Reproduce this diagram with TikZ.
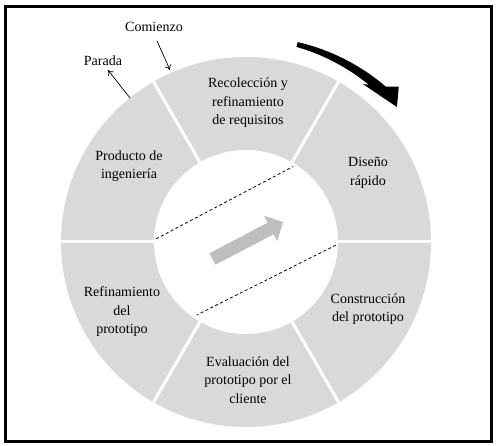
\documentclass[tikz,border=0pt]{standalone}
\usepackage{fontspec}
\setmainfont{Liberation Serif}
\usetikzlibrary{arrows.meta,calc}
\definecolor{ringgray}{RGB}{217,217,217}
\definecolor{arrowgray}{RGB}{190,190,190}
\def\rinner{92}
\def\router{185}
\tikzstyle{stage}=[align=center, inner sep=2pt,
    font=\fontsize{14}{18.5}\selectfont]
\tikzstyle{note}=[inner sep=3pt, font=\fontsize{14}{16}\selectfont]
\tikzstyle{pointer}=[-{To[length=5pt,width=7pt]}, line width=0.7pt]
\tikzstyle{chord}=[dash pattern=on 3pt off 2.5pt, line width=0.8pt]
\tikzstyle{divider}=[draw=white, line width=3pt]

\begin{document}
\begin{tikzpicture}[x=1pt, y=1pt]
    \useasboundingbox (-246,242) rectangle (250,-204);
    \draw[line width=3pt] (-240.5,235.5) rectangle (245.5,-199.5);

    % ring of the six stages
    \fill[ringgray] (0,0) circle (\router);
    \fill[white] (0,0) circle (\rinner);
    \foreach \a in {0,60,...,300}
        \draw[divider] (\a:\rinner-2) -- (\a:\router+2);

    \node[stage] (recoleccion) at (2,139) {Recolección y\\refinamiento\\de requisitos};
    \node[stage] (diseno) at (122,69) {Diseño\\rápido};
    \node[stage] (construccion) at (122,-67) {Construcción\\del prototipo};
    \node[stage] (evaluacion) at (2,-138) {Evaluación del\\prototipo por el\\cliente};
    \node[stage] (refinamiento) at (-124,-70) {Refinamiento\\del\\prototipo};
    \node[stage] (producto) at (-117,76) {Producto de\\ingeniería};

    % dashed chords and arrow inside
    \coordinate (ua) at (178:90);
    \coordinate (ub) at (58:89);
    \coordinate (la) at (-2:90);
    \coordinate (lb) at (236:88);
    \draw[chord] (ua) -- (ub);
    \draw[chord] (la) -- (lb);
    \coordinate (tail) at (-33.5,-17);
    \coordinate (head) at (37,20);
    \draw[arrowgray, line width=13pt, -{Triangle[length=14pt,width=28pt]}] (tail) -- (head);

    % direction of the cycle (tapered)
    \fill plot[domain=75.5:48, samples=24] (\x:{206.5+2.5*(75.5-\x)/27.5})
        -- (45.5:218) -- (41.8:202.5) -- (53.5:196.5)
        -- plot[domain=52:75.5, samples=24] (\x:{201.5-2*(75.5-\x)/23.5}) -- cycle;

    % start and stop
    \node[note] (comienzo) at (-92,215) {Comienzo};
    \node[note] (parada) at (-143,181) {Parada};
    \coordinate (inicio) at (-76,172);
    \coordinate (fin) at (-116,144);
    \draw[pointer] ([shift={(3pt,-6pt)}]comienzo.south) -- (inicio);
    \draw[pointer] (fin) -- ([shift={(5pt,-1pt)}]parada.south);
\end{tikzpicture}
\end{document}
